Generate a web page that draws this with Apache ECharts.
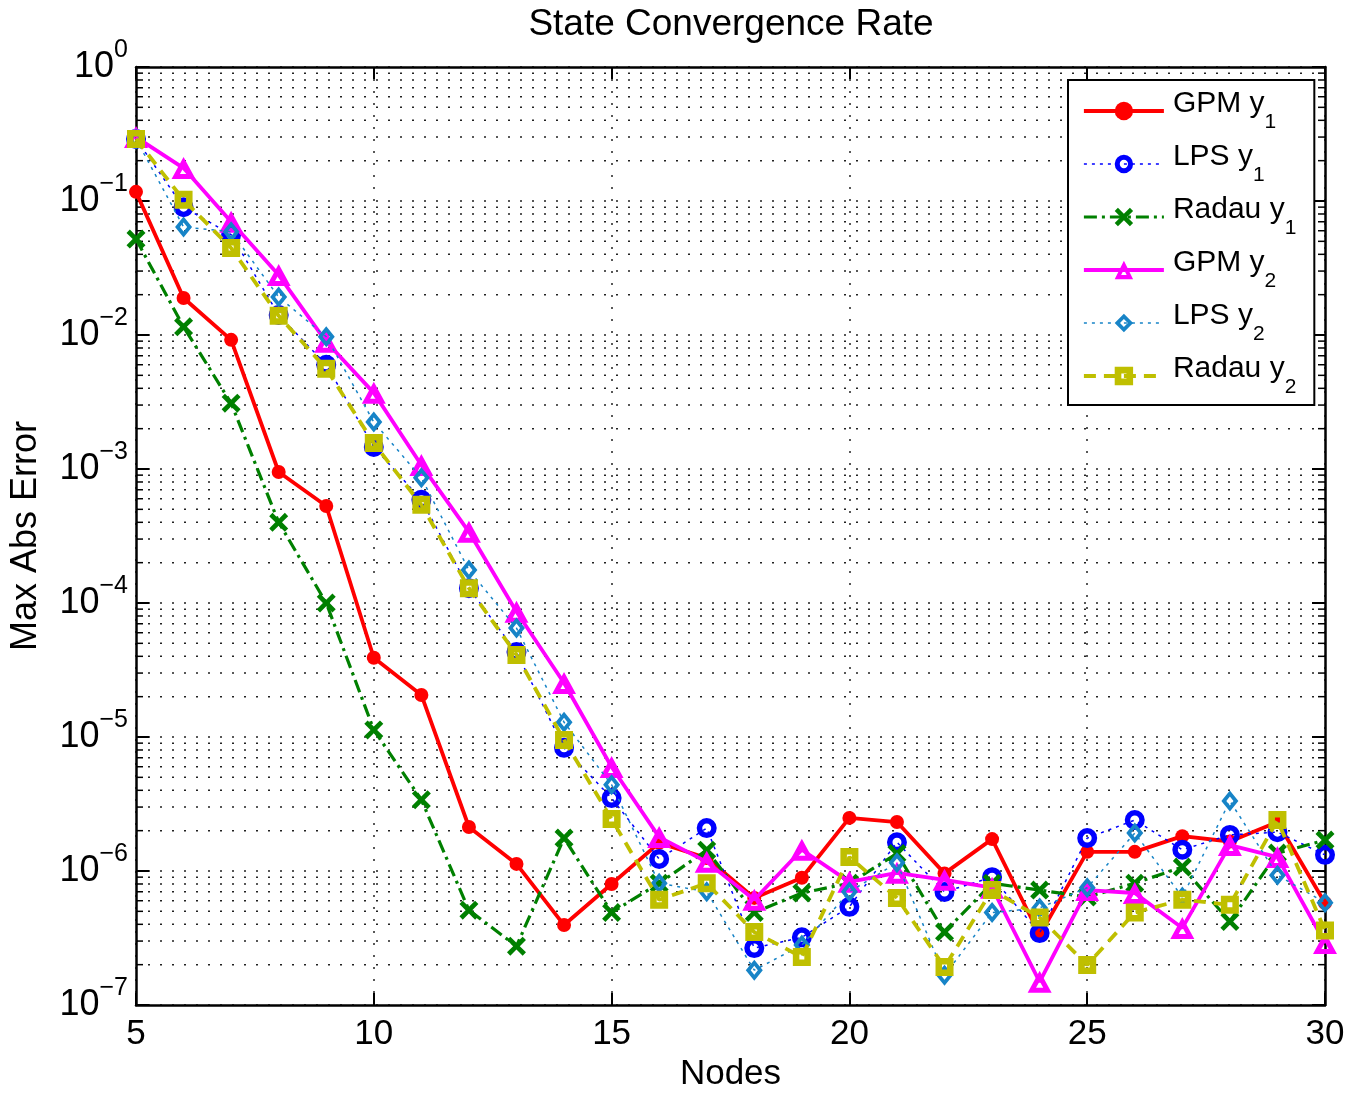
<!DOCTYPE html>
<html>
<head>
<meta charset="utf-8">
<script src="https://cdn.jsdelivr.net/npm/echarts@6/dist/echarts.min.js"></script>
<style>
  html, body { margin: 0; padding: 0; background: #fff; }
  #chart { width: 1364px; height: 1097px; }
</style>
</head>
<body>
<div id="chart"></div>
<script>
// Number of collocation nodes
const nodes = [5, 6, 7, 8, 9, 10, 11, 12, 13, 14, 15, 16, 17, 18, 19, 20, 21, 22, 23, 24, 25, 26, 27, 28, 29, 30];

// Max absolute state error per method and state
const gpmY1 = [0.117, 0.0189, 0.0092, 9.5e-4, 5.3e-4, 3.9e-5, 2.06e-5, 2.13e-6, 1.13e-6, 3.95e-7, 8.0e-7, 1.62e-6, 1.25e-6, 6.3e-7, 8.9e-7, 2.49e-6, 2.32e-6, 9.6e-7, 1.73e-6, 3.33e-7, 1.39e-6, 1.39e-6, 1.82e-6, 1.66e-6, 2.32e-6, 5.77e-7];
const lpsY1 = [0.29, 0.090, 0.056, 0.0141, 0.0060, 1.46e-3, 5.9e-4, 1.29e-4, 4.3e-5, 8.3e-6, 3.5e-6, 1.23e-6, 2.09e-6, 2.66e-7, 3.2e-7, 5.4e-7, 1.64e-6, 6.97e-7, 9.0e-7, 3.44e-7, 1.76e-6, 2.40e-6, 1.44e-6, 1.86e-6, 1.95e-6, 1.32e-6];
const radauY1 = [0.052, 0.0115, 3.1e-3, 4.0e-4, 1.0e-4, 1.13e-5, 3.4e-6, 5.1e-7, 2.75e-7, 1.76e-6, 4.9e-7, 8.1e-7, 1.43e-6, 4.9e-7, 6.85e-7, 8.1e-7, 1.35e-6, 3.5e-7, 8.1e-7, 7.2e-7, 6.4e-7, 8.1e-7, 1.07e-6, 4.2e-7, 1.36e-6, 1.70e-6];
const gpmY2 = [0.30, 0.176, 0.070, 0.028, 8.9e-3, 3.7e-3, 1.07e-3, 3.4e-4, 8.6e-5, 2.53e-5, 5.97e-6, 1.79e-6, 1.17e-6, 6.1e-7, 1.44e-6, 8.3e-7, 9.7e-7, 8.6e-7, 7.5e-7, 1.49e-7, 7.2e-7, 6.85e-7, 3.76e-7, 1.56e-6, 1.27e-6, 2.9e-7];
const lpsY2 = [0.29, 0.064, 0.059, 0.0192, 9.7e-3, 2.24e-3, 8.6e-4, 1.76e-4, 6.5e-5, 1.29e-5, 4.4e-6, 8.1e-7, 7.0e-7, 1.82e-7, 2.8e-7, 7.0e-7, 1.15e-6, 1.67e-7, 4.9e-7, 5.3e-7, 7.5e-7, 1.92e-6, 6.4e-7, 3.33e-6, 9.3e-7, 5.8e-7];
const radauY2 = [0.29, 0.102, 0.0446, 0.0139, 5.6e-3, 1.56e-3, 5.4e-4, 1.29e-4, 4.1e-5, 9.5e-6, 2.44e-6, 6.1e-7, 8.1e-7, 3.5e-7, 2.28e-7, 1.27e-6, 6.3e-7, 1.92e-7, 7.2e-7, 4.5e-7, 1.99e-7, 4.9e-7, 6.1e-7, 5.6e-7, 2.40e-6, 3.6e-7];

// Tolerance reference line
const tolerance = 1e-6;

// Axis ranges and ticks
const xMin = 5, xMax = 30, xStep = 5;
const yMin = 1e-7, yMax = 1;
const decadeExponents = [-7, -6, -5, -4, -3, -2, -1];
const minorMultipliers = [2, 3, 4, 5, 6, 7, 8, 9];

const FONT = '"Liberation Sans", Arial, Helvetica, sans-serif';
const DOTTED = [2, 10];
const GRID_COLOR = '#222';

const pairs = (ys) => nodes.map((n, i) => [n, ys[i]]);

// minor log-grid levels (2..9 x 10^k)
const minorLevels = [];
decadeExponents.forEach(e => minorMultipliers.forEach(m => minorLevels.push([xMin, m * Math.pow(10, e)])));

// marker outlines (hollow shapes are drawn as filled rings so lines show through)
const MARK = {
  dot: 'circle',
  ring: 'path://M10,0 A10,10 0 1 1 10,20 A10,10 0 1 1 10,0 Z M10,5.5 A4.5,4.5 0 1 0 10,14.5 A4.5,4.5 0 1 0 10,5.5 Z',
  cross: 'path://M0,3.5 L3.5,0 L10,6.5 L16.5,0 L20,3.5 L13.5,10 L20,16.5 L16.5,20 L10,13.5 L3.5,20 L0,16.5 L6.5,10 Z',
  tri: 'path://M12,0 L24,22 L0,22 Z M12,10.4 L8.4,17 L15.6,17 Z',
  diamond: 'path://M9,0 L18,11 L9,22 L0,11 Z M9,6.3 L5.2,11 L9,15.7 L12.8,11 Z',
  square: 'path://M0,0 L18,0 L18,18 L0,18 Z M6.5,6.5 L6.5,11.5 L11.5,11.5 L11.5,6.5 Z'
};

// per-series drawing style
const STYLE = {
  'GPM y1':   { color: '#ff0000', width: 3.8, dash: 'solid',        symbol: MARK.dot,     size: 14 },
  'LPS y1':   { color: '#0000ff', width: 1.5, dash: [3, 5],         symbol: MARK.ring,    size: 20 },
  'Radau y1': { color: '#008000', width: 3.2, dash: [13, 5, 3, 5],  symbol: MARK.cross,   size: 19 },
  'GPM y2':   { color: '#ff00ff', width: 3.8, dash: 'solid',        symbol: MARK.tri,     size: [24, 22] },
  'LPS y2':   { color: '#1784c7', width: 1.5, dash: [3, 5],         symbol: MARK.diamond, size: [17, 21] },
  'Radau y2': { color: '#bfbf00', width: 3.8, dash: [12, 8],        symbol: MARK.square,  size: 18 }
};

function lineSeries(name, ys, z) {
  const st = STYLE[name];
  return {
    name: name,
    type: 'line',
    data: pairs(ys),
    z: z,
    symbol: st.symbol,
    symbolSize: st.size,
    showSymbol: true,
    clip: false,
    lineStyle: { color: st.color, width: st.width, type: st.dash },
    itemStyle: { color: st.color, borderWidth: 0 },
    emphasis: { disabled: true }
  };
}

const chart = echarts.init(document.getElementById('chart'), null, { renderer: 'canvas' });

const series = [
  // dotted minor grid of the log axis, with minor ticks on left/right frame
  {
    name: 'minorGrid',
    type: 'custom',
    data: minorLevels,
    z: 1,
    silent: true,
    renderItem: function (params, api) {
      const v = api.value(1);
      const pL = api.coord([xMin, v]);
      const pR = api.coord([xMax, v]);
      return {
        type: 'group',
        children: [
          { type: 'line', shape: { x1: pL[0], y1: pL[1], x2: pR[0], y2: pR[1] },
            style: { stroke: GRID_COLOR, lineWidth: 1.5, lineDash: DOTTED } },
          { type: 'line', shape: { x1: pL[0], y1: pL[1], x2: pL[0] + 7, y2: pL[1] },
            style: { stroke: '#000', lineWidth: 1.5 } },
          { type: 'line', shape: { x1: pR[0] - 7, y1: pR[1], x2: pR[0], y2: pR[1] },
            style: { stroke: '#000', lineWidth: 1.5 } }
        ]
      };
    }
  },
  lineSeries('GPM y1', gpmY1, 10),
  lineSeries('LPS y1', lpsY1, 11),
  lineSeries('Radau y1', radauY1, 12),
  lineSeries('GPM y2', gpmY2, 13),
  lineSeries('LPS y2', lpsY2, 14),
  lineSeries('Radau y2', radauY2, 15)
];

// tolerance line
series[series.length - 1].markLine = {
  silent: true,
  symbol: ['none', 'none'],
  label: { show: false },
  z: 20,
  lineStyle: { color: '#000', width: 4, type: 'solid' },
  data: [{ yAxis: tolerance }]
};

const legendNames = ['GPM y1', 'LPS y1', 'Radau y1', 'GPM y2', 'LPS y2', 'Radau y2'];
const legendData = legendNames.map(n => ({
  name: n,
  lineStyle: { width: STYLE[n].width, type: STYLE[n].dash, color: STYLE[n].color }
}));

const option = {
  animation: false,
  backgroundColor: '#fff',
  textStyle: { fontFamily: FONT },
  title: {
    text: 'State Convergence Rate',
    left: 731,
    top: 25,
    textAlign: 'center',
    textVerticalAlign: 'middle',
    padding: 0,
    textStyle: { fontFamily: FONT, fontSize: 37, fontWeight: 'normal', color: '#000' }
  },
  grid: { left: 135, right: 39, top: 67, bottom: 92, containLabel: false },
  legend: {
    data: legendData,
    orient: 'vertical',
    left: 1068,
    top: 80,
    padding: [9, 18, 7, 14],
    itemGap: 9,
    itemWidth: 80,
    itemHeight: 23,
    backgroundColor: '#fff',
    borderColor: '#000',
    borderWidth: 2,
    borderRadius: 0,
    selectedMode: false,
    itemStyle: { borderWidth: 0 },
    formatter: function (name) {
      const parts = name.split(' y');
      return '{b|' + parts[0] + ' y}{s|' + parts[1] + '}';
    },
    textStyle: {
      fontFamily: FONT,
      color: '#000',
      rich: {
        b: { fontFamily: FONT, fontSize: 30, lineHeight: 30, padding: [0, 0, 14, 4], color: '#000' },
        s: { fontFamily: FONT, fontSize: 21, lineHeight: 21, padding: [23, 0, 0, 0], color: '#000' }
      }
    }
  },
  xAxis: [
    {
      type: 'value',
      min: xMin, max: xMax, interval: xStep,
      name: 'Nodes',
      nameLocation: 'middle',
      nameGap: 48,
      nameTextStyle: { fontFamily: FONT, fontSize: 35, color: '#000', lineHeight: 35 },
      axisLine: { show: true, onZero: false, lineStyle: { color: '#000', width: 2.5 } },
      axisTick: { show: true, inside: true, length: 12, lineStyle: { color: '#000', width: 2 } },
      axisLabel: { show: true, margin: 12, fontFamily: FONT, fontSize: 35, lineHeight: 35, color: '#000' },
      splitLine: { show: true, lineStyle: { color: GRID_COLOR, width: 1.5, type: DOTTED } }
    },
    {
      type: 'value',
      position: 'top',
      min: xMin, max: xMax, interval: xStep,
      axisLine: { show: true, onZero: false, lineStyle: { color: '#000', width: 2.5 } },
      axisTick: { show: true, inside: true, length: 12, lineStyle: { color: '#000', width: 2 } },
      axisLabel: { show: false },
      splitLine: { show: false }
    }
  ],
  yAxis: [
    {
      type: 'log',
      logBase: 10,
      min: yMin, max: yMax,
      splitNumber: 7,
      name: 'Max Abs Error',
      nameLocation: 'middle',
      nameGap: 92,
      nameRotate: 90,
      nameTextStyle: { fontFamily: FONT, fontSize: 36, color: '#000', lineHeight: 36 },
      axisLine: { show: true, onZero: false, lineStyle: { color: '#000', width: 2.5 } },
      axisTick: { show: true, inside: true, length: 13, lineStyle: { color: '#000', width: 2 } },
      axisLabel: {
        show: true,
        margin: 8,
        formatter: function (v) {
          const e = Math.round(Math.log10(v));
          const s = e < 0 ? '\u2212' + (-e) : String(e);
          return '{b|10}{e|' + s + '}';
        },
        rich: {
          b: { fontFamily: FONT, fontSize: 36, lineHeight: 36, color: '#000' },
          e: { fontFamily: FONT, fontSize: 25, lineHeight: 25, padding: [0, 0, 34, 0], color: '#000' }
        }
      },
      splitLine: { show: true, lineStyle: { color: GRID_COLOR, width: 1.5, type: DOTTED } }
    },
    {
      type: 'log',
      logBase: 10,
      position: 'right',
      min: yMin, max: yMax,
      splitNumber: 7,
      axisLine: { show: true, onZero: false, lineStyle: { color: '#000', width: 2.5 } },
      axisTick: { show: true, inside: true, length: 13, lineStyle: { color: '#000', width: 2 } },
      axisLabel: { show: false },
      splitLine: { show: false }
    }
  ],
  series: series
};

chart.setOption(option);
</script>
</body>
</html>
